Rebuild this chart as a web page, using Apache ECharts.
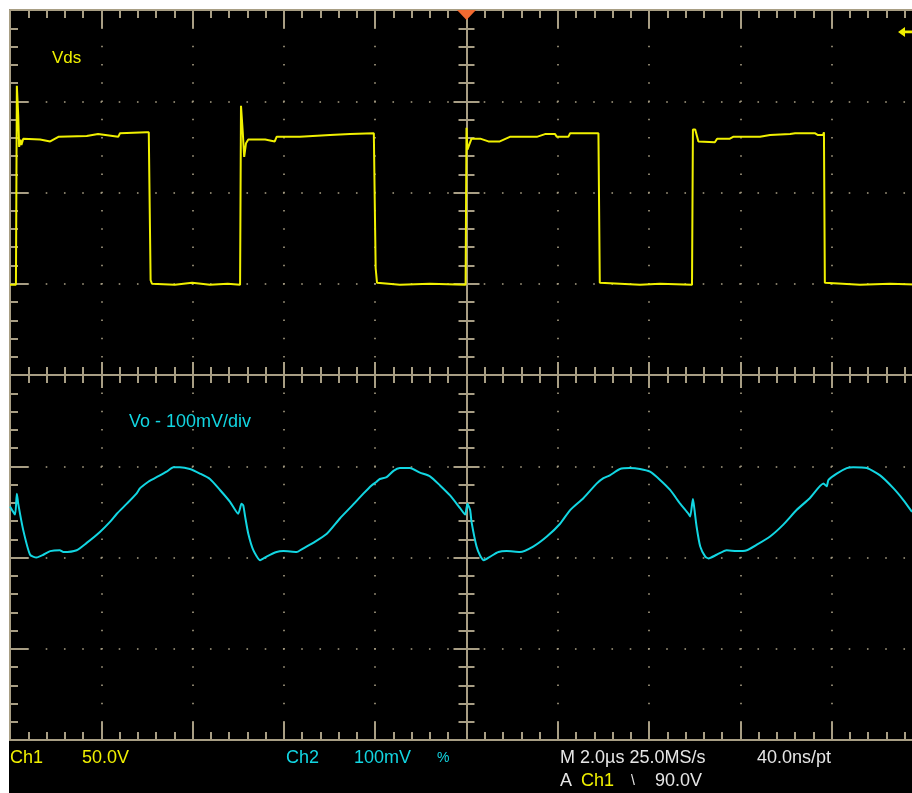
<!DOCTYPE html>
<html><head><meta charset="utf-8">
<script src="https://cdn.jsdelivr.net/npm/echarts@6/dist/echarts.min.js"></script>
<style>
html,body{margin:0;padding:0;background:#fff;overflow:hidden;width:912px;height:793px;}
#chart{position:absolute;left:9px;top:9px;width:930px;height:784px;background:#000;}
</style></head><body><div id="chart"></div>
<script>
// Horizontal: time in microseconds (2 us/div, trigger at 0). Vertical: screen divisions.
const timeRange = [-10, 10];
const timeDiv = 2;
const divRange = [-4, 4];
const divStep = 1;

// Ch1 Vds trace [time us, divisions]
const vdsTrace = [[-10.00,0.99],[-9.87,0.99],[-9.85,3.17],[-9.82,2.85],[-9.80,2.50],[-9.77,2.58],[-9.75,2.52],[-9.71,2.59],[-9.34,2.58],[-9.31,2.56],[-9.12,2.56],[-8.94,2.61],[-8.32,2.62],[-8.29,2.63],[-8.07,2.64],[-8.03,2.65],[-7.63,2.61],[-7.59,2.65],[-7.01,2.66],[-6.96,2.66],[-6.92,1.04],[-6.89,1.00],[-6.87,0.99],[-6.39,0.99],[-6.36,1.01],[-6.01,1.01],[-5.99,0.99],[-5.62,0.99],[-5.60,1.00],[-5.23,1.00],[-5.20,0.99],[-4.96,0.99],[-4.94,2.95],[-4.90,2.65],[-4.87,2.39],[-4.83,2.54],[-4.78,2.58],[-4.41,2.58],[-4.38,2.56],[-4.20,2.56],[-4.16,2.61],[-3.65,2.61],[-2.99,2.63],[-2.55,2.64],[-2.03,2.65],[-1.99,1.17],[-1.96,1.01],[-1.94,0.99],[-1.46,0.99],[-1.44,1.00],[-0.80,1.00],[-0.78,0.99],[-0.02,0.99],[0.00,2.71],[0.02,2.47],[0.11,2.59],[0.30,2.59],[0.48,2.56],[0.73,2.56],[0.95,2.61],[1.54,2.61],[1.72,2.64],[1.94,2.64],[1.98,2.61],[2.23,2.61],[2.27,2.65],[2.89,2.65],[2.92,1.01],[2.95,0.99],[3.80,0.99],[3.82,1.00],[4.24,1.00],[4.26,0.99],[4.94,0.99],[4.96,2.69],[5.01,2.69],[5.08,2.56],[5.12,2.55],[5.44,2.55],[5.49,2.59],[5.77,2.59],[5.84,2.61],[6.43,2.61],[6.47,2.63],[6.65,2.63],[6.69,2.64],[7.09,2.64],[7.20,2.65],[7.63,2.65],[7.70,2.63],[7.81,2.63],[7.83,2.66],[7.85,1.01],[7.88,0.99],[8.62,0.99],[8.64,1.00],[9.28,1.00],[9.30,0.99],[10.00,0.99]];

// Ch2 Vo ripple trace [time us, divisions]
const voTrace = [[-10.00,-1.44],[-9.89,-1.53],[-9.85,-1.30],[-9.82,-1.41],[-9.71,-1.70],[-9.56,-1.97],[-9.42,-2.00],[-9.27,-1.97],[-9.12,-1.93],[-8.91,-1.92],[-8.83,-1.94],[-8.54,-1.92],[-8.32,-1.84],[-8.03,-1.72],[-7.81,-1.61],[-7.66,-1.52],[-7.44,-1.41],[-7.23,-1.30],[-7.15,-1.24],[-6.97,-1.17],[-6.90,-1.15],[-6.79,-1.12],[-6.57,-1.06],[-6.42,-1.01],[-6.28,-1.01],[-6.06,-1.03],[-5.84,-1.08],[-5.62,-1.14],[-5.40,-1.26],[-5.18,-1.39],[-5.00,-1.52],[-4.96,-1.46],[-4.93,-1.41],[-4.89,-1.43],[-4.85,-1.55],[-4.78,-1.74],[-4.67,-1.92],[-4.52,-2.03],[-4.38,-1.99],[-4.16,-1.94],[-4.01,-1.93],[-3.72,-1.94],[-3.61,-1.91],[-3.36,-1.84],[-3.06,-1.74],[-2.77,-1.57],[-2.52,-1.44],[-2.26,-1.30],[-2.08,-1.21],[-1.97,-1.17],[-1.90,-1.14],[-1.75,-1.12],[-1.60,-1.05],[-1.46,-1.02],[-1.24,-1.02],[-1.02,-1.07],[-0.80,-1.11],[-0.58,-1.21],[-0.36,-1.32],[-0.14,-1.46],[-0.03,-1.53],[0.02,-1.41],[0.08,-1.48],[0.11,-1.61],[0.22,-1.88],[0.30,-1.98],[0.38,-2.03],[0.52,-1.99],[0.70,-1.94],[0.88,-1.93],[1.17,-1.94],[1.46,-1.88],[1.76,-1.77],[2.05,-1.63],[2.27,-1.48],[2.56,-1.35],[2.85,-1.19],[3.00,-1.13],[3.14,-1.10],[3.36,-1.03],[3.58,-1.02],[3.80,-1.03],[4.02,-1.06],[4.24,-1.15],[4.46,-1.26],[4.68,-1.41],[4.86,-1.52],[4.90,-1.55],[4.96,-1.36],[4.99,-1.46],[5.04,-1.66],[5.12,-1.88],[5.23,-1.99],[5.30,-2.01],[5.48,-1.97],[5.70,-1.92],[5.92,-1.93],[6.14,-1.92],[6.36,-1.86],[6.65,-1.77],[6.94,-1.64],[7.23,-1.48],[7.52,-1.35],[7.82,-1.19],[7.89,-1.22],[7.93,-1.15],[8.11,-1.08],[8.33,-1.02],[8.47,-1.01],[8.77,-1.02],[9.06,-1.10],[9.35,-1.24],[9.57,-1.37],[9.76,-1.50]];

// trigger position (time) and Ch1 trigger level (divisions)
const triggerTime = 0;
const triggerLevelDiv = 3.76;
const triggerArrowTime = 9.65;

// on-screen readouts
const readouts = [
  {text:'Vds', x:43, y:49, color:'yellow', size:17},
  {text:'Vo - 100mV/div', x:120, y:413, color:'cyan', size:18},
  {text:'Ch1', x:1, y:749, color:'yellow', size:18},
  {text:'50.0V', x:73, y:749, color:'yellow', size:18},
  {text:'Ch2', x:277, y:749, color:'cyan', size:18},
  {text:'100mV', x:345, y:749, color:'cyan', size:18},
  {text:'%', x:428, y:749, color:'cyan', size:14},
  {text:'M 2.0µs 25.0MS/s', x:551, y:749, color:'white', size:18},
  {text:'40.0ns/pt', x:748, y:749, color:'white', size:18},
  {text:'A', x:551, y:772, color:'white', size:18},
  {text:'Ch1', x:572, y:772, color:'yellow', size:18},
  {text:'\\', x:622, y:772, color:'white', size:14},
  {text:'90.0V', x:646, y:772, color:'white', size:18}
];

const COLORS = {yellow:'#f0f000', cyan:'#12d6e2', white:'#e6e6e6', grid:'#a89e84', trig:'#f26a30'};
const FONT = '"Liberation Sans", Arial, sans-serif';

function axisBase(range, step, extra) {
  const base = {
    type:'value', min:range[0], max:range[1], interval:step,
    axisLine:{show:true, onZero:false, lineStyle:{color:COLORS.grid, width:2}},
    axisTick:{show:true, inside:true, length:18, lineStyle:{color:COLORS.grid, width:2}},
    minorTick:{show:true, splitNumber:5, length:8, lineStyle:{color:COLORS.grid, width:2}},
    axisLabel:{show:false},
    splitLine:{show:false}
  };
  return Object.assign(base, extra);
}
function centerAxis(range, step, inside, zeroIdx, pos) {
  return axisBase(range, step, {
    position: pos,
    axisLine:{show:true, onZero:true, onZeroAxisIndex:zeroIdx, lineStyle:{color:COLORS.grid, width:2}},
    axisTick:{show:true, inside:inside, length:13, lineStyle:{color:COLORS.grid, width:2}},
    minorTick:{show:true, splitNumber:5, length:8, lineStyle:{color:COLORS.grid, width:2}}
  });
}
const dotted = {show:true, lineStyle:{color:COLORS.grid, width:1.6, type:[1.6,16.65], dashOffset:0.8}};

const chart = echarts.init(document.getElementById('chart'), null, {renderer:'canvas'});
chart.setOption({
  animation:false,
  backgroundColor:'#000',
  grid:{left:1, top:1, width:913, height:730, containLabel:false},
  xAxis:[
    axisBase(timeRange, timeDiv, {position:'bottom', splitLine:dotted}),
    axisBase(timeRange, timeDiv, {position:'top'}),
    centerAxis(timeRange, timeDiv, true, 0, 'bottom'),
    centerAxis(timeRange, timeDiv, false, 0, 'bottom')
  ],
  yAxis:[
    axisBase(divRange, divStep, {position:'left', splitLine:dotted}),
    centerAxis(divRange, divStep, true, 0, 'left'),
    centerAxis(divRange, divStep, false, 0, 'left')
  ],
  series:[
    {
      type:'line', name:'Vds', xAxisIndex:0, yAxisIndex:0, data:vdsTrace,
      showSymbol:false, symbol:'none', z:5,
      lineStyle:{color:COLORS.yellow, width:2}, itemStyle:{color:COLORS.yellow},
      markPoint:{
        silent:true, animation:false, label:{show:false},
        data:[
          {coord:[triggerTime, divRange[1]], symbol:'triangle', symbolRotate:180, symbolSize:[19,10], symbolOffset:[0,5], itemStyle:{color:COLORS.trig}},
          {coord:[triggerArrowTime, triggerLevelDiv], symbol:'path://M0,5L7,0L7,3.7L18,3.7L18,6.3L7,6.3L7,10Z', symbolSize:[18,10], itemStyle:{color:COLORS.yellow}}
        ]
      }
    },
    {
      type:'line', name:'Vo', xAxisIndex:0, yAxisIndex:0, data:voTrace,
      showSymbol:false, symbol:'none', z:5, smooth:0.2,
      lineStyle:{color:COLORS.cyan, width:2}, itemStyle:{color:COLORS.cyan}
    }
  ],
  graphic: readouts.map(r => ({
    type:'text', x:r.x, y:r.y, z:10, silent:true,
    style:{text:r.text, fill:COLORS[r.color], fontSize:r.size, fontFamily:FONT, verticalAlign:'middle', align:'left'}
  }))
});
</script></body></html>
